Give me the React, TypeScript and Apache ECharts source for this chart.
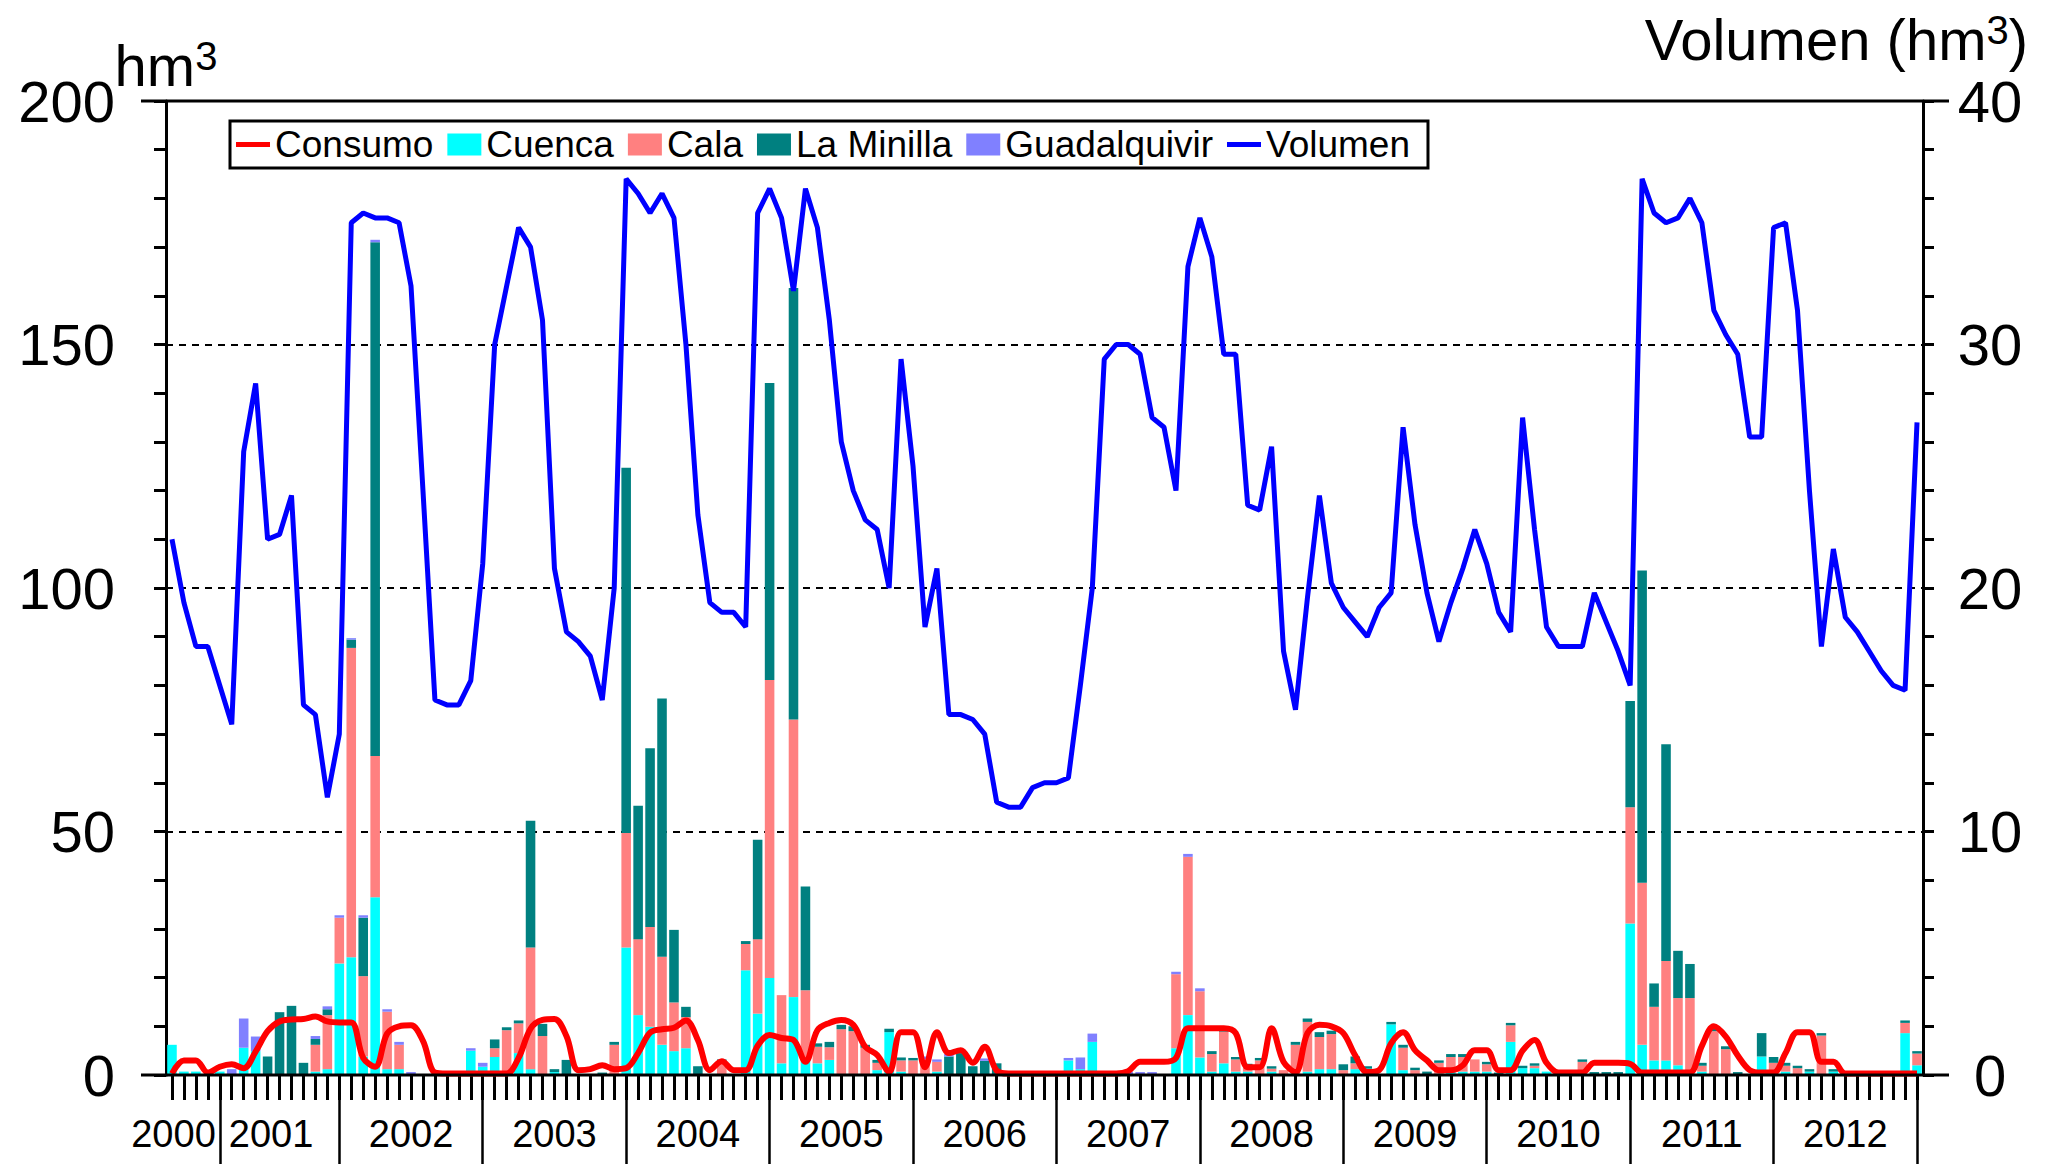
import React, { useEffect, useRef } from 'react';
import * as echarts from 'echarts';

// ---------- data ----------
const years = ['2000', '2001', '2002', '2003', '2004', '2005', '2006', '2007', '2008', '2009', '2010', '2011', '2012'];
const monthsPerYear = [4, 10, 12, 12, 12, 12, 12, 12, 12, 12, 12, 12, 12];
const endYear = '2013';

const leftTicks = [0, 50, 100, 150, 200];
const rightTicks = [0, 10, 20, 30, 40];

const consumo = [
  0.3, 3, 3, 0.5,
  1.7, 2.2, 1.4, 4.8, 9, 11, 11.4, 11.5, 12, 11,
  10.8, 10.8, 3.5, 1.7, 8.5, 10, 10.2, 7, 0.5, 0.3, 0.3, 0.3,
  0.3, 0.3, 0.3, 3.5, 9.5, 11.3, 11.5, 8, 1, 1.2, 2, 1.2,
  1.4, 4.5, 8.7, 9.4, 9.7, 11.2, 7.2, 1, 2.8, 1, 1, 6,
  8.2, 7.6, 7.2, 2.7, 9.2, 10.7, 11.3, 10.3, 5.8, 4.1, 0.6, 8.8,
  8.8, 1.6, 8.8, 4.5, 5.1, 2.5, 5.8, 0.9, 0.3, 0.3, 0.3, 0.3,
  0.3, 0.3, 0.3, 0.3, 0.3, 0.3, 0.8, 2.7, 2.7, 2.7, 3.5, 9.6,
  9.6, 9.6, 9.6, 8.6, 1.6, 1.6, 9.6, 2.7, 0.6, 8.6, 10.3, 10,
  8.6, 4, 0.6, 1, 6.5, 8.8, 5.1, 3, 1, 1, 2, 5.1,
  5.1, 1, 1, 5, 7.2, 2.5, 0.5, 0.5, 0.5, 2.5, 2.5, 2.5,
  2.3, 0.5, 0.5, 0.5, 0.5, 0.5, 6, 10, 7.9, 4, 1, 0.5,
  0.5, 4.5, 8.8, 8.8, 2.7, 2.7, 0.3, 0.3, 0.3, 0.3, 0.3, 0.3,
  0.3,
];

const cuenca = [
  6.2, 0.7, 0.7, 0,
  0.7, 0, 5.6, 4.9, 0, 0, 0, 0, 0.7, 1.2,
  22.9, 24.2, 3.8, 36.5, 1.2, 1.2, 0, 0, 0, 0, 0, 5,
  1.7, 3.7, 0, 4.5, 1.2, 0, 0.6, 0, 0, 0, 0, 0,
  26.2, 12.3, 9.9, 6.2, 4.9, 5.5, 0, 0, 0, 0, 21.5, 12.6,
  19.9, 2.4, 16, 3.1, 2.4, 3.1, 0, 0, 0, 1, 8.8, 0.7,
  0, 0, 0.7, 0, 0, 0, 0, 0, 0, 0, 0, 0,
  0, 3, 1.2, 6.8, 0, 0, 0, 0, 0, 0, 5.5, 12.3,
  3.6, 0.7, 2.4, 0.7, 0.7, 0, 0.7, 0, 0, 0.7, 1.2, 1.2,
  0, 1.2, 1.3, 0, 10.4, 1, 0, 0, 0, 0.7, 0.7, 0.7,
  0.7, 0, 6.8, 1.4, 1.4, 0.7, 0, 0, 0, 0, 0, 0,
  31.1, 6.2, 3, 3, 2, 1, 0.7, 0, 0, 0, 0, 3.8,
  0, 0.7, 0, 0.7, 0, 0.7, 0, 0, 0, 0, 0, 8.6,
  2,
];

const cala = [
  0, 0, 0, 0,
  0, 0, 0, 0, 0, 0, 0, 0, 5.5, 11.1,
  9.4, 63.5, 16.5, 29, 11.8, 5, 0, 0, 0, 0, 0, 0,
  0, 1.8, 9.2, 6.1, 25, 8, 0, 0, 0, 0, 0, 6.2,
  23.5, 15.6, 20.5, 18.1, 10, 6.4, 0, 0, 2.5, 0, 5.4, 15.3,
  61.2, 14, 57, 14.3, 3.4, 2.6, 9.4, 9, 5.6, 1.5, 0, 2.3,
  3, 3.2, 2, 0, 0, 0, 0, 0, 0, 0, 0, 0,
  0, 0, 0, 0, 0, 0, 0, 0, 0, 0, 15.2, 32.5,
  13.6, 3.6, 6.5, 2.5, 1, 3, 0.6, 1, 6.2, 10.2, 6.6, 7.2,
  1, 1.2, 0, 0, 0, 4.6, 1, 0, 2.5, 3, 3, 2.5,
  1.5, 0, 3.4, 0, 0.5, 0, 0, 0, 2.7, 0, 0, 0,
  23.9, 33.3, 11, 20.4, 13.8, 14.8, 1.2, 9, 5.3, 0, 0, 0,
  2.5, 1.2, 1.4, 0, 8.1, 0, 0, 0, 0, 0, 0, 2.1,
  2.4,
];

const laMinilla = [
  0, 0, 0, 0,
  0, 0, 0, 0, 3.8, 12.9, 14.2, 2.5, 1.2, 1.2,
  0, 1.7, 12, 105.5, 0, 0, 0, 0, 0, 0, 0, 0,
  0, 1.8, 0.6, 0.6, 26, 2.5, 0.6, 3.1, 0, 0, 0.5, 0.6,
  75, 27.4, 36.7, 53, 14.9, 2.1, 1.8, 0, 0.7, 0, 0.6, 20.4,
  61, 0, 88.6, 21.3, 0.7, 1.1, 0.9, 1, 0.6, 0.6, 0.7, 0.6,
  0.5, 0, 0, 3.8, 4.5, 1.8, 2.9, 2.4, 0, 0, 0, 0,
  0, 0, 0, 0, 0, 0, 0, 0, 0, 0, 0, 0,
  0, 0.6, 0.5, 0.5, 0.6, 0.5, 0.5, 0, 0.6, 0.7, 1, 0.7,
  1.2, 1.4, 0.5, 0, 0.5, 0.6, 0.5, 0.7, 0.5, 0.6, 0.6, 0,
  0.5, 0.5, 0.5, 0.5, 0.5, 0, 0.5, 0, 0.5, 0.6, 0.6, 0.6,
  21.8, 64.1, 4.8, 44.5, 9.7, 7, 0.6, 0.6, 0.6, 0.6, 0, 4.8,
  1.2, 0.6, 0.5, 0.5, 0.5, 0.5, 0, 0, 0, 0, 0, 0.5,
  0.5,
];

const guadalquivir = [
  0, 0, 0, 0,
  0, 1.2, 6, 3, 0, 0, 0, 0, 0.6, 0.6,
  0.5, 0.3, 0.5, 0.5, 0.5, 0.6, 0.6, 0, 0, 0, 0.6, 0.5,
  0.8, 0, 0, 0, 0, 0, 0, 0, 0, 0, 0, 0,
  0, 0, 0, 0, 0, 0, 0, 0, 0, 0, 0, 0,
  0, 0, 0, 0, 0, 0, 0, 0, 0, 0, 0, 0,
  0, 0.6, 0.5, 0.5, 0, 0, 0.5, 0, 0, 0.6, 0, 0,
  0, 0.5, 2.4, 1.7, 0, 0, 0.6, 0.6, 0.6, 0, 0.5, 0.6,
  0.6, 0, 0, 0, 0, 0, 0, 0, 0, 0, 0, 0,
  0, 0, 0, 0, 0, 0, 0, 0, 0, 0, 0, 0,
  0, 0, 0, 0, 0, 0, 0, 0, 0, 0, 0, 0,
  0, 0, 0, 0, 0, 0, 0, 0, 0, 0, 0, 0,
  0, 0, 0, 0, 0, 0, 0, 0, 0, 0, 0, 0,
  0,
];

const volumen = [
  22.0, 19.4, 17.6, 17.6,
  16.0, 14.4, 25.6, 28.4, 22.0, 22.2, 23.8, 15.2, 14.8, 11.4,
  14.0, 35.0, 35.4, 35.2, 35.2, 35.0, 32.4, 24.0, 15.4, 15.2, 15.2, 16.2,
  21.0, 30.0, 32.4, 34.8, 34.0, 31.0, 20.8, 18.2, 17.8, 17.2, 15.4, 20.0,
  36.8, 36.2, 35.4, 36.2, 35.2, 30.0, 23.0, 19.4, 19.0, 19.0, 18.4, 35.4,
  36.4, 35.2, 32.2, 36.4, 34.8, 31.0, 26.0, 24.0, 22.8, 22.4, 20.0, 29.4,
  25.0, 18.4, 20.8, 14.8, 14.8, 14.6, 14.0, 11.2, 11.0, 11.0, 11.8, 12.0,
  12.0, 12.2, 16.0, 20.0, 29.4, 30.0, 30.0, 29.6, 27.0, 26.6, 24.0, 33.2,
  35.2, 33.6, 29.6, 29.6, 23.4, 23.2, 25.8, 17.4, 15.0, 19.6, 23.8, 20.2,
  19.2, 18.6, 18.0, 19.2, 19.8, 26.6, 22.6, 19.8, 17.8, 19.4, 20.8, 22.4,
  21.0, 19.0, 18.2, 27.0, 22.4, 18.4, 17.6, 17.6, 17.6, 19.8, 18.6, 17.4,
  16.0, 36.8, 35.4, 35.0, 35.2, 36.0, 35.0, 31.4, 30.4, 29.6, 26.2, 26.2,
  34.8, 35.0, 31.4, 24.0, 17.6, 21.6, 18.8, 18.2, 17.4, 16.6, 16.0, 15.8,
  26.8,
];

const FONT = '"Liberation Sans", Arial, sans-serif';
const BLACK = '#000000';
const LINE_ICON = 'path://M0,0 L34,0 L34,5 L0,5 Z';

export default function App() {
  const ref = useRef<HTMLDivElement>(null);

  useEffect(() => {
    const el = ref.current as HTMLDivElement;
    const chart = echarts.init(el, null, { renderer: 'svg' });

    const categories: string[] = [];
    const sepIdx: number[] = [];
    years.forEach((y, k) => {
      if (k > 0) sepIdx.push(categories.length);
      for (let m = 0; m < monthsPerYear[k]; m++) categories.push(`${y}-${m + 1}`);
    });
    sepIdx.push(categories.length);
    categories.push(`${endYear}-1`);
    const sepSet = new Set(sepIdx);

    const GRID = { left: 166, right: 126, top: 101, bottom: 89 };
    const W = el.clientWidth;

    const option: any = {
      animation: false,
      backgroundColor: '#ffffff',
      grid: { ...GRID, containLabel: false },
      legend: {
        left: 230,
        top: 121,
        orient: 'horizontal',
        itemWidth: 34,
        itemHeight: 22,
        itemGap: 14,
        padding: [5, 18, 5, 6],
        borderColor: BLACK,
        borderWidth: 3,
        backgroundColor: '#ffffff',
        symbolKeepAspect: true,
        textStyle: { fontSize: 37, fontFamily: FONT, color: BLACK },
        data: [
          { name: 'Consumo', icon: LINE_ICON },
          { name: 'Cuenca', icon: 'rect' },
          { name: 'Cala', icon: 'rect' },
          { name: 'La Minilla', icon: 'rect' },
          { name: 'Guadalquivir', icon: 'rect' },
          { name: 'Volumen', icon: LINE_ICON },
        ],
      },
      xAxis: [
        {
          type: 'category',
          data: categories,
          boundaryGap: true,
          axisLine: { show: false },
          axisTick: { show: true, interval: 0, alignWithLabel: true, length: 25, lineStyle: { color: BLACK, width: 3 } },
          axisLabel: { show: false },
          splitLine: { show: false },
        },
        {
          type: 'category',
          data: categories,
          boundaryGap: true,
          position: 'bottom',
          axisLine: { show: false },
          axisTick: {
            show: true,
            alignWithLabel: true,
            interval: (i: number) => sepSet.has(i),
            length: 89,
            lineStyle: { color: BLACK, width: 2.5 },
          },
          axisLabel: { show: false },
          splitLine: { show: false },
        },
      ],
      yAxis: [
        {
          type: 'value',
          min: leftTicks[0],
          max: leftTicks[leftTicks.length - 1],
          interval: leftTicks[1] - leftTicks[0],
          position: 'left',
          axisLine: { show: true, lineStyle: { color: BLACK, width: 3 } },
          axisTick: { show: true, inside: false, length: 12, lineStyle: { color: BLACK, width: 3 } },
          minorTick: { show: true, splitNumber: 5, length: 12, lineStyle: { color: BLACK, width: 3 } },
          axisLabel: { color: BLACK, fontSize: 58, fontFamily: FONT, margin: 51 },
          splitLine: { show: true, lineStyle: { color: BLACK, width: 2, type: [7, 6] } },
        },
        {
          type: 'value',
          min: rightTicks[0],
          max: rightTicks[rightTicks.length - 1],
          interval: rightTicks[1] - rightTicks[0],
          position: 'right',
          axisLine: { show: true, lineStyle: { color: BLACK, width: 3 } },
          axisTick: { show: true, inside: false, length: 11, lineStyle: { color: BLACK, width: 3 } },
          minorTick: { show: true, splitNumber: 5, length: 11, lineStyle: { color: BLACK, width: 3 } },
          axisLabel: { color: BLACK, fontSize: 58, fontFamily: FONT, margin: 67, align: 'center' },
          splitLine: { show: false },
        },
      ],
      series: [
        {
          name: 'Consumo', type: 'line', data: consumo, yAxisIndex: 0, symbol: 'none', smooth: 0.35,
          lineStyle: { color: '#FF0000', width: 6 }, itemStyle: { color: '#FF0000' }, z: 5,
        },
        { name: 'Cuenca', type: 'bar', stack: 'aportes', data: cuenca, barWidth: '80%', itemStyle: { color: '#00FFFF' } },
        { name: 'Cala', type: 'bar', stack: 'aportes', data: cala, barWidth: '80%', itemStyle: { color: '#FF8080' } },
        { name: 'La Minilla', type: 'bar', stack: 'aportes', data: laMinilla, barWidth: '80%', itemStyle: { color: '#008080' } },
        { name: 'Guadalquivir', type: 'bar', stack: 'aportes', data: guadalquivir, barWidth: '80%', itemStyle: { color: '#8080FF' } },
        {
          name: 'Volumen', type: 'line', data: volumen, yAxisIndex: 1, symbol: 'none',
          lineStyle: { color: '#0000FF', width: 5 }, itemStyle: { color: '#0000FF' }, z: 6,
        },
      ],
    };

    chart.setOption(option);

    const xPix = (i: number) => chart.convertToPixel({ xAxisIndex: 0 }, categories[i]) as number;
    const yTop = chart.convertToPixel({ yAxisIndex: 0 }, leftTicks[leftTicks.length - 1]) as number;
    const yBot = chart.convertToPixel({ yAxisIndex: 0 }, leftTicks[0]) as number;
    const gridL = GRID.left;
    const gridR = W - GRID.right;
    const sepPx = sepIdx.map((i) => xPix(i));

    const yearTexts = years.map((y, k) => {
      let x: number;
      let align: string = 'center';
      if (k === 0) { x = sepPx[0] - 4; align = 'right'; }
      else if (k === 1) { x = sepPx[0] + 9; align = 'left'; }
      else { x = (sepPx[k - 1] + sepPx[k]) / 2; }
      return {
        type: 'text', x, y: yBot + 59, z: 20,
        style: { text: y, fontSize: 38, fontFamily: FONT, fill: BLACK, align, verticalAlign: 'middle' },
      };
    });

    chart.setOption({
      graphic: [
        { type: 'line', z: 30, shape: { x1: gridL - 25, y1: yTop, x2: gridR + 26, y2: yTop }, style: { stroke: BLACK, lineWidth: 3 } },
        { type: 'line', z: 30, shape: { x1: gridL - 25, y1: yBot, x2: gridR + 26, y2: yBot }, style: { stroke: BLACK, lineWidth: 3 } },
        ...yearTexts,
        {
          type: 'text', x: gridL, y: yTop - 36, z: 20,
          style: {
            text: '{a|hm}{b|3}', align: 'center', verticalAlign: 'middle',
            rich: {
              a: { fontSize: 58, fontFamily: FONT, fill: BLACK },
              b: { fontSize: 40, fontFamily: FONT, fill: BLACK, verticalAlign: 'top' },
            },
          },
        },
        {
          type: 'text', x: W - 21, y: 39, z: 20,
          style: {
            text: '{a|Volumen (hm}{b|3}{a|)}', align: 'right', verticalAlign: 'middle',
            rich: {
              a: { fontSize: 58, fontFamily: FONT, fill: BLACK },
              b: { fontSize: 40, fontFamily: FONT, fill: BLACK, verticalAlign: 'top' },
            },
          },
        },
      ],
    });

    return () => chart.dispose();
  }, []);

  return <div ref={ref} style={{ position: 'absolute', left: 0, top: 0, width: 2049, height: 1164 }} />;
}
